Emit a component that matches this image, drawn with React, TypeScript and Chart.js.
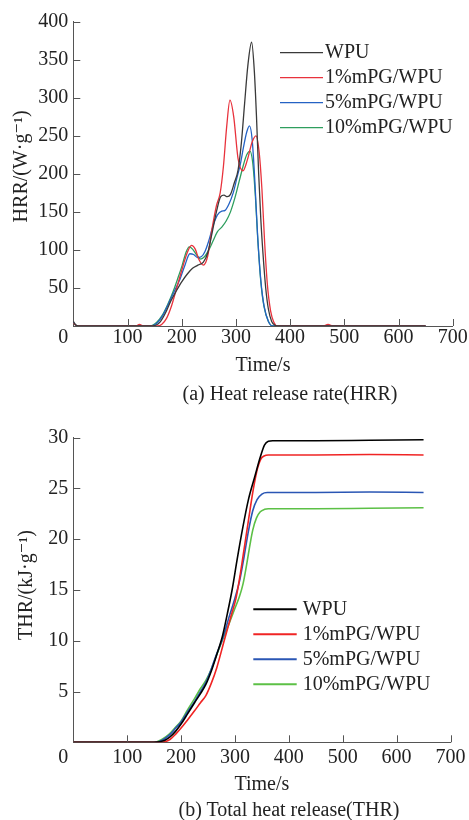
import React, { useEffect, useRef } from 'react';
import { Chart, registerables } from 'chart.js';

Chart.register(...registerables);

const FONT = "'Liberation Serif', 'Times New Roman', 'DejaVu Serif', serif";
const TEXT = '#222222';
const AXIS = '#555555';

const SERIES_LABELS = ['WPU', '1%mPG/WPU', '5%mPG/WPU', '10%mPG/WPU'];
const HRR_COLORS = ['#3a3a3a', '#e8323c', '#2462c4', '#2e9e5e'];
const THR_COLORS = ['#000000', '#f02424', '#2a56b4', '#5cc046'];

// ---------- HRR (W/g) ----------
const hrrWpuTime = [0, 5, 15, 140, 152, 160, 170, 180, 190, 200, 210, 220, 230, 240, 248, 256, 264, 272, 278, 284, 290, 297, 304, 310, 316, 322, 329, 334, 338, 342, 346, 350, 355, 360, 366, 372, 380, 450, 550, 650];
const hrrWpuValue = [6, 1, 0, 0, 1, 5, 17, 33, 46, 58, 68, 76, 80, 84, 96, 122, 150, 170, 172, 170, 173, 188, 205, 240, 292, 342, 373, 335, 275, 200, 140, 95, 50, 22, 6, 1, 0, 0, 0, 0];

const hrrPg1Time = [0, 5, 15, 115, 122, 130, 155, 163, 172, 181, 190, 200, 210, 218, 225, 232, 240, 248, 256, 264, 271, 277, 283, 289, 296, 304, 313, 321, 330, 337, 343, 348, 353, 358, 364, 370, 377, 460, 470, 480, 650];
const hrrPg1Value = [4, 1, 0, 0, 2, 0, 0, 2, 10, 26, 48, 73, 96, 106, 101, 87, 80, 92, 128, 158, 175, 210, 262, 297, 275, 220, 204, 218, 242, 250, 228, 180, 110, 55, 20, 5, 0, 0, 2, 0, 0];

const hrrPg5Time = [0, 5, 15, 140, 148, 156, 166, 176, 186, 196, 206, 215, 222, 229, 236, 243, 250, 258, 266, 274, 280, 287, 295, 302, 308, 314, 320, 325, 330, 335, 340, 346, 352, 360, 368, 450, 650];
const hrrPg5Value = [5, 1, 0, 0, 1, 5, 15, 30, 45, 60, 80, 95, 94, 90, 91, 98, 112, 132, 146, 151, 152, 160, 175, 195, 212, 235, 255, 263, 245, 190, 120, 60, 26, 6, 0, 0, 0];

const hrrPg10Time = [0, 5, 15, 138, 146, 154, 164, 174, 184, 193, 201, 208, 214, 220, 228, 235, 242, 250, 258, 266, 274, 282, 290, 298, 306, 314, 320, 326, 331, 336, 340, 346, 352, 360, 368, 450, 650];
const hrrPg10Value = [4, 1, 0, 0, 1, 5, 14, 28, 45, 63, 80, 97, 104, 101, 93, 88, 91, 100, 112, 124, 130, 138, 150, 168, 190, 212, 225, 230, 215, 170, 118, 58, 25, 6, 0, 0, 0];

// ---------- THR (kJ/g) ----------
const thrWpuTime = [0, 150, 160, 170, 180, 190, 200, 212, 225, 236, 246, 256, 266, 277, 286, 295, 304, 314, 325, 337, 347, 355, 362, 370, 450, 550, 650];
const thrWpuValue = [0, 0, 0.05, 0.2, 0.55, 1.1, 1.8, 2.8, 3.9, 4.8, 5.7, 7.0, 8.6, 10.5, 12.7, 15.1, 18.0, 21.0, 23.9, 26.2, 28.1, 29.3, 29.65, 29.7, 29.7, 29.75, 29.8];

const thrPg1Time = [0, 160, 170, 180, 190, 200, 212, 225, 236, 246, 256, 266, 280, 292, 302, 310, 318, 326, 334, 342, 348, 354, 362, 450, 550, 650];
const thrPg1Value = [0, 0, 0.05, 0.3, 0.8, 1.4, 2.2, 3.1, 3.9, 4.6, 5.8, 7.3, 10.0, 12.3, 14.2, 16.6, 19.4, 22.2, 24.9, 27.0, 27.9, 28.2, 28.3, 28.3, 28.35, 28.3];

const thrPg5Time = [0, 150, 158, 168, 180, 190, 200, 212, 225, 236, 246, 256, 266, 277, 290, 300, 309, 317, 325, 333, 341, 350, 360, 450, 550, 650];
const thrPg5Value = [0, 0, 0.05, 0.3, 0.8, 1.4, 2.0, 3.0, 4.0, 5.0, 5.9, 7.2, 8.7, 10.2, 12.5, 14.2, 16.0, 18.3, 20.8, 22.8, 23.9, 24.45, 24.6, 24.6, 24.65, 24.6];

const thrPg10Time = [0, 145, 155, 165, 178, 190, 200, 212, 225, 236, 246, 256, 266, 277, 290, 300, 308, 315, 322, 328, 333, 340, 347, 355, 362, 450, 550, 650];
const thrPg10Value = [0, 0, 0.05, 0.3, 0.8, 1.5, 2.1, 3.2, 4.3, 5.3, 6.1, 7.2, 8.6, 10.1, 11.8, 13.2, 14.3, 15.6, 17.6, 19.5, 20.9, 22.1, 22.7, 22.95, 23.0, 23.0, 23.05, 23.1];

const X_MIN = 0;
const X_MAX = 700;
const X_STEP = 100;

type Series = { t: number[]; v: number[] };

type PanelSpec = {
  top: number;
  height: number;
  areaTop: number;
  areaBottom: number;
  areaLeft: number;
  areaRight: number;
  yMax: number;
  yStep: number;
  yTitle: string;
  yTitlePad: number;
  xTickPad: number;
  xTitlePad: number;
  series: Series[];
  colors: string[];
  lineWidth: number;
  legendLeft: number;
  legendTop: number;
  legendRow: number;
  legendLineLen: number;
  legendGap: number;
  legendLineWidth: number;
};

const W = 469;
const NB = '\u00a0';

const hrrSpec: PanelSpec = {
  top: 0,
  height: 400,
  areaTop: 21.7,
  areaBottom: 326,
  areaLeft: 73.3,
  areaRight: 452.7,
  yMax: 400,
  yStep: 50,
  yTitle: NB + NB + NB + 'HRR/(W·g⁻¹)',
  yTitlePad: 9.7,
  xTickPad: 0,
  xTitlePad: 22,
  series: [
    { t: hrrWpuTime, v: hrrWpuValue },
    { t: hrrPg1Time, v: hrrPg1Value },
    { t: hrrPg5Time, v: hrrPg5Value },
    { t: hrrPg10Time, v: hrrPg10Value },
  ],
  colors: HRR_COLORS,
  lineWidth: 1.3,
  legendLeft: 206.7,
  legendTop: 31,
  legendRow: 25,
  legendLineLen: 43,
  legendGap: 2,
  legendLineWidth: 1.3,
};

const thrSpec: PanelSpec = {
  top: 410,
  height: 400,
  areaTop: 27.7,
  areaBottom: 332.3,
  areaLeft: 73.3,
  areaRight: 452.7,
  yMax: 30,
  yStep: 5,
  yTitle: NB + NB + 'THR/(kJ·g⁻¹)',
  yTitlePad: 14.7,
  xTickPad: 3.5,
  xTitlePad: 13,
  series: [
    { t: thrWpuTime, v: thrWpuValue },
    { t: thrPg1Time, v: thrPg1Value },
    { t: thrPg5Time, v: thrPg5Value },
    { t: thrPg10Time, v: thrPg10Value },
  ],
  colors: THR_COLORS,
  lineWidth: 1.6,
  legendLeft: 180,
  legendTop: 171.6,
  legendRow: 25,
  legendLineLen: 43.4,
  legendGap: 6,
  legendLineWidth: 2,
};

function makeConfig(spec: PanelSpec): any {
  const font = { family: FONT, size: 20 };
  const decor = {
    id: 'decor',
    afterDraw(chart: any) {
      const { ctx, chartArea, scales } = chart;
      const xs = scales.x;
      const ys = scales.y;
      const tickLen = 7;
      ctx.save();
      ctx.strokeStyle = AXIS;
      ctx.lineWidth = 1;
      ctx.beginPath();
      xs.ticks.forEach((t: any) => {
        if (t.value === 0) return;
        const px = Math.round(xs.getPixelForValue(t.value)) + 0.5;
        ctx.moveTo(px, chartArea.bottom);
        ctx.lineTo(px, chartArea.bottom - tickLen);
      });
      ys.ticks.forEach((t: any) => {
        if (t.value === 0) return;
        const py = Math.round(ys.getPixelForValue(t.value)) + 0.5;
        ctx.moveTo(chartArea.left, py);
        ctx.lineTo(chartArea.left + tickLen, py);
      });
      ctx.stroke();

      ctx.font = `20px ${FONT}`;
      ctx.textAlign = 'left';
      ctx.textBaseline = 'middle';
      chart.data.datasets.forEach((ds: any, i: number) => {
        const y = chartArea.top + spec.legendTop + i * spec.legendRow;
        const x0 = chartArea.left + spec.legendLeft;
        ctx.strokeStyle = ds.borderColor;
        ctx.lineWidth = spec.legendLineWidth;
        ctx.beginPath();
        ctx.moveTo(x0, y);
        ctx.lineTo(x0 + spec.legendLineLen, y);
        ctx.stroke();
        ctx.fillStyle = TEXT;
        ctx.fillText(ds.label, x0 + spec.legendLineLen + spec.legendGap, y);
      });
      ctx.restore();
    },
  };

  return {
    type: 'line',
    data: {
      datasets: spec.series.map((s, i) => ({
        label: SERIES_LABELS[i],
        data: s.t.map((x, j) => ({ x, y: s.v[j] })),
        borderColor: spec.colors[i],
        backgroundColor: spec.colors[i],
        borderWidth: spec.lineWidth,
        pointRadius: 0,
        fill: false,
        cubicInterpolationMode: 'monotone',
      })),
    },
    options: {
      responsive: false,
      animation: false,
      events: [],
      layout: {
        padding: { top: spec.areaTop, right: W - spec.areaRight, left: 0, bottom: 0 },
      },
      plugins: {
        legend: { display: false },
        tooltip: { enabled: false },
        title: { display: false },
      },
      scales: {
        x: {
          type: 'linear',
          min: X_MIN,
          max: X_MAX,
          grid: { display: false, drawTicks: false },
          border: { display: true, color: AXIS, width: 1 },
          ticks: {
            stepSize: X_STEP,
            font,
            color: TEXT,
            padding: spec.xTickPad,
            maxRotation: 0,
            autoSkip: false,
            callback: (v: number) => (v === 0 ? '0' + NB + NB + NB + NB : String(v)),
          },
          title: {
            display: true,
            text: 'Time/s',
            font,
            color: TEXT,
            padding: { top: 0, bottom: spec.xTitlePad },
          },
          afterFit: (s: any) => {
            s.height = spec.height - spec.areaBottom;
          },
        },
        y: {
          type: 'linear',
          min: 0,
          max: spec.yMax,
          grid: { display: false, drawTicks: false },
          border: { display: true, color: AXIS, width: 1 },
          ticks: {
            stepSize: spec.yStep,
            font,
            color: TEXT,
            padding: 5,
            callback: (v: number) => (v === 0 ? '' : String(v)),
          },
          title: {
            display: true,
            text: spec.yTitle,
            font,
            color: TEXT,
            padding: { top: spec.yTitlePad, bottom: 0 },
          },
          afterFit: (s: any) => {
            s.width = spec.areaLeft;
          },
        },
      },
    },
    plugins: [decor],
  };
}

function Panel({ spec }: { spec: PanelSpec }) {
  const ref = useRef<HTMLCanvasElement>(null);
  useEffect(() => {
    if (!ref.current) return;
    const chart = new Chart(ref.current, makeConfig(spec));
    return () => chart.destroy();
  }, [spec]);
  return (
    <canvas
      ref={ref}
      width={W}
      height={spec.height}
      style={{ position: 'absolute', left: 0, top: spec.top, width: W, height: spec.height }}
    />
  );
}

const captionStyle = (top: number, center: number): React.CSSProperties => ({
  position: 'absolute',
  left: center - 200,
  top,
  width: 400,
  textAlign: 'center',
  fontFamily: FONT,
  fontSize: 20,
  lineHeight: '22px',
  color: TEXT,
  whiteSpace: 'nowrap',
});

export default function App() {
  return (
    <div style={{ position: 'fixed', left: 0, top: 0, width: W, height: 820, background: '#fff', overflow: 'hidden' }}>
      <Panel spec={hrrSpec} />
      <Panel spec={thrSpec} />
      <div style={captionStyle(382, 290)}>(a) Heat release rate(HRR)</div>
      <div style={captionStyle(798, 289)}>(b) Total heat release(THR)</div>
    </div>
  );
}
